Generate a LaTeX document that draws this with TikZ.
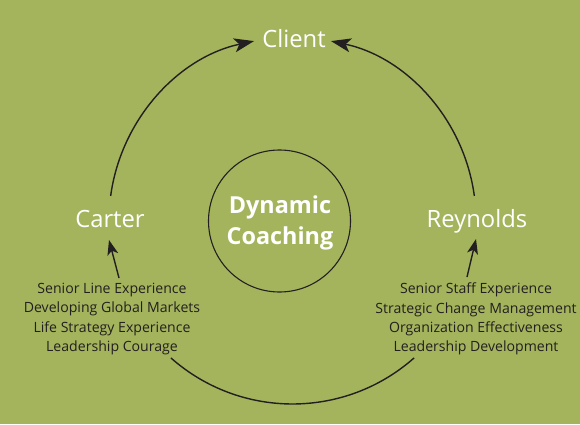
\documentclass[tikz,border=0pt]{standalone}
\usepackage{fontspec}
\setmainfont{Open Sans}
\usetikzlibrary{arrows.meta,calc}
\definecolor{bg}{RGB}{163,180,92}
\definecolor{ink}{RGB}{35,31,32}
\tikzset{
  arcline/.style={draw=ink,line width=1.4pt},
  arrowline/.style={arcline,-{Stealth[length=20pt,width=14pt,inset=5pt]}},
  smallarrow/.style={arcline,-{Stealth[length=15pt,width=11pt,inset=4pt]}},
  bigname/.style={text=white,font=\fontsize{23.8}{28}\selectfont,inner sep=0pt,anchor=base},
  listtext/.style={text=ink,font=\fontsize{14.1}{19.3}\selectfont,align=center,inner sep=0pt},
}
\begin{document}
\begin{tikzpicture}[x=1pt,y=1pt]
\fill[bg] (0,0) rectangle (580,424);
\useasboundingbox (0,0) rectangle (580,424);
\coordinate (O) at (292.5,203.5);
\def\R{183.5}
% center circle
\node[circle,draw=ink,line width=1.1pt,minimum size=142pt,inner sep=0pt] (core) at (279.5,203) {};
\node[text=white,font=\bfseries\fontsize{23.4}{31.5}\selectfont,align=center,inner sep=0pt] (coretext) at (280,201) {Dynamic\\Coaching};
% names
\node[bigname] (client) at (294,376.7) {Client};
\node[bigname] (carter) at (110,196.3) {Carter};
\node[bigname] (reynolds) at (477,196.3) {Reynolds};
% lists
\node[listtext] (leftlist) at (112,105) {Senior Line Experience\\Developing Global Markets\\Life Strategy Experience\\Leadership Courage};
\node[listtext] (rightlist) at (476,105) {Senior Staff Experience\\Strategic Change Management\\Organization Effectiveness\\Leadership Development};
% arc endpoints
\coordinate (a1) at ($(O)+(172.3:\R)$);
\coordinate (a2) at ($(O)+(7.7:\R)$);
\coordinate (a3) at ($(O)+(228.5:\R)$);
\draw[arrowline] (a1) arc[start angle=172.3,end angle=102.1,radius=\R];
\draw[arrowline] (a2) arc[start angle=7.7,end angle=77.9,radius=\R];
\draw[arcline] (a3) arc[start angle=228.5,end angle=311.5,radius=\R];
% small arrows
\coordinate (l1) at (119,146);
\coordinate (r1) at (467,147);
\draw[smallarrow] (l1) -- (109,184);
\draw[smallarrow] (r1) -- (476,185);
\end{tikzpicture}
\end{document}
